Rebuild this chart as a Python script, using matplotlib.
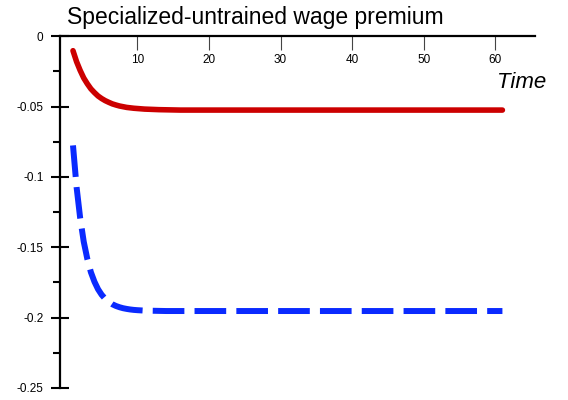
import numpy as np
import matplotlib
matplotlib.use("Agg")
import matplotlib.pyplot as plt

plt.rcParams['font.family'] = ['Liberation Sans', 'DejaVu Sans']

# time: half steps over the early transition, then whole periods up to 61
time = np.concatenate([np.arange(1, 10, 0.5), np.arange(10, 62)])

# specialized-untrained wage premium, two scenarios
premium_solid = [
    -0.0103, -0.0181, -0.0243, -0.0297, -0.0338, -0.0374, -0.0401, -0.0425, -0.0443, -0.0458,
    -0.0470, -0.0481, -0.0489, -0.0496, -0.0501, -0.0506, -0.0509, -0.0512,
    -0.0514, -0.0518, -0.0520, -0.0522, -0.0523, -0.0524, -0.0525, -0.0525, -0.0525, -0.0525,
    -0.0525, -0.0525, -0.0525, -0.0525, -0.0525, -0.0525, -0.0525, -0.0525, -0.0525, -0.0525,
    -0.0525, -0.0525, -0.0525, -0.0525, -0.0525, -0.0525, -0.0525, -0.0525, -0.0525, -0.0525,
    -0.0525, -0.0525, -0.0525, -0.0525, -0.0525, -0.0525, -0.0525, -0.0525, -0.0525, -0.0525,
    -0.0525, -0.0525, -0.0525, -0.0525, -0.0525, -0.0525, -0.0525, -0.0525, -0.0525, -0.0525,
    -0.0525, -0.0525,
]
premium_dashed = [
    -0.0776, -0.1072, -0.1291, -0.1460, -0.1582, -0.1677, -0.1745, -0.1798, -0.1837, -0.1866,
    -0.1888, -0.1905, -0.1917, -0.1926, -0.1933, -0.1938, -0.1942, -0.1945,
    -0.1947, -0.1950, -0.1951, -0.1952, -0.1953, -0.1953, -0.1953, -0.1953, -0.1953, -0.1953,
    -0.1953, -0.1953, -0.1953, -0.1953, -0.1953, -0.1953, -0.1953, -0.1953, -0.1953, -0.1953,
    -0.1953, -0.1953, -0.1953, -0.1953, -0.1953, -0.1953, -0.1953, -0.1953, -0.1953, -0.1953,
    -0.1953, -0.1953, -0.1953, -0.1953, -0.1953, -0.1953, -0.1953, -0.1953, -0.1953, -0.1953,
    -0.1953, -0.1953, -0.1953, -0.1953, -0.1953, -0.1953, -0.1953, -0.1953, -0.1953, -0.1953,
    -0.1953, -0.1953,
]

xticks = [10, 20, 30, 40, 50, 60]
yticks = [0, -0.05, -0.1, -0.15, -0.2, -0.25]
ylabels = ['0', '-0.05', '-0.1', '-0.15', '-0.2', '-0.25']
yminor = [-0.025, -0.075, -0.125, -0.175, -0.225]

fig = plt.figure(figsize=(5.68, 4.0), dpi=100)
ax = fig.add_axes([0.1062, 0.03, 0.8363, 0.8795])

ax.plot(time, premium_solid, color='#cc0000', lw=4, solid_capstyle='round',
        solid_joinstyle='round')
ax.plot(time, premium_dashed, color='#0a2aff', lw=4.3, dashes=(5.3, 1.7),
        dash_capstyle='butt', dash_joinstyle='round')

ax.set_xlim(-0.77, 65.6)
ax.set_ylim(-0.25, 0)

for s in ['right', 'top']:
    ax.spines[s].set_visible(False)
ax.spines['bottom'].set_position(('data', 0))
ax.spines['bottom'].set_linewidth(1.6)
ax.spines['left'].set_linewidth(1.6)

ax.set_xticks(xticks)
ax.set_xticklabels([str(v) for v in xticks])
ax.tick_params(axis='x', direction='out', length=10, width=0.8, color='#444444',
               pad=2.7, labelsize=8.5)

ax.set_yticks(yticks)
ax.set_yticklabels(ylabels)
ax.set_yticks(yminor, minor=True)
ax.tick_params(axis='y', which='major', direction='inout', length=13, width=1.5,
               pad=5.7, labelsize=8.5)
ax.tick_params(axis='y', which='minor', direction='out', length=5, width=1.5)

fig.text(67 / 568, 1 - 24 / 400, 'Specialized-untrained wage premium',
         fontsize=16.5, ha='left', va='baseline')
fig.text(497 / 568, 1 - 87.7 / 400, 'Time', fontsize=16, style='italic',
         ha='left', va='baseline')

fig.savefig('out.png', dpi=100)
